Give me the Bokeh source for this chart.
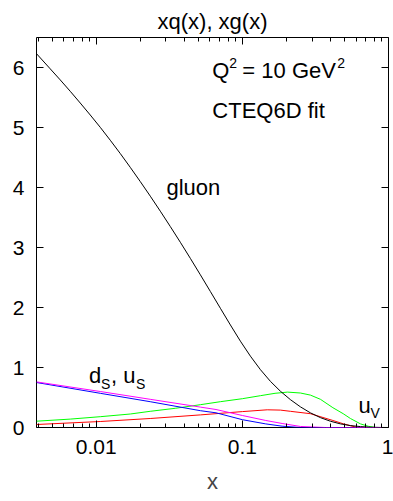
from bokeh.plotting import figure
from bokeh.models import (LogAxis, LinearAxis, FixedTicker, Label, Range1d,
                          CustomJSTickFormatter)
from bokeh.embed import file_html
from bokeh.resources import INLINE

FONT = "Liberation Sans"
FS = "21px"
TXT_FS = "22px"
SUB_FS = "14px"

# axis settings
x_start, x_end = 0.0039, 1.0
y_start, y_end = 0.0, 6.5
x_major = [0.01, 0.1, 1.0]
x_minor = [0.004, 0.005, 0.006, 0.007, 0.008, 0.009,
           0.02, 0.03, 0.04, 0.05, 0.06, 0.07, 0.08, 0.09,
           0.2, 0.3, 0.4, 0.5, 0.6, 0.7, 0.8, 0.9]
y_major = [0, 1, 2, 3, 4, 5, 6]

# parton distributions x*f(x, Q^2 = 10 GeV^2), CTEQ6D
gluon_x = [0.0039, 0.00484, 0.00567, 0.00664, 0.00777, 0.0091, 0.01065,
           0.01247, 0.0146, 0.01709, 0.02001, 0.02344, 0.02744, 0.03213,
           0.03762, 0.04405, 0.05158, 0.06039, 0.07071, 0.08279, 0.09693,
           0.1135, 0.1329, 0.1556, 0.1822, 0.2133, 0.2497, 0.2924, 0.3424,
           0.4009, 0.4694, 0.5496, 0.6435, 0.7535, 0.8823, 1.0]
gluon_y = [6.23, 5.978, 5.793, 5.603, 5.408, 5.208, 5.003,
           4.788, 4.566, 4.336, 4.099, 3.855, 3.605, 3.349,
           3.087, 2.819, 2.545, 2.267, 1.987, 1.709, 1.439,
           1.189, 0.964, 0.769, 0.604, 0.464, 0.344, 0.244, 0.164,
           0.104, 0.06, 0.032, 0.015, 0.005, 0.001, 0.0]

uv_x = [0.0039, 0.00664, 0.01065, 0.0171, 0.0234, 0.0347, 0.0516, 0.0707,
        0.1, 0.1328, 0.1673, 0.2035, 0.2496, 0.2922, 0.3421, 0.4164,
        0.4897, 0.549, 0.643, 0.7286, 0.815, 1.0]
uv_y = [0.105, 0.14, 0.18, 0.225, 0.27, 0.32, 0.38, 0.43,
        0.48, 0.53, 0.57, 0.59, 0.575, 0.54, 0.47, 0.33,
        0.23, 0.15, 0.06, 0.02, 0.0, 0.0]

dv_x = [0.0039, 0.01065, 0.0234, 0.0516, 0.1, 0.148, 0.182, 0.213,
        0.2922, 0.4164, 0.4897, 0.61, 1.0]
dv_y = [0.05, 0.1, 0.15, 0.21, 0.265, 0.295, 0.29, 0.27,
        0.23, 0.117, 0.062, 0.0, 0.0]

us_x = [0.0039, 0.01065, 0.0234, 0.0516, 0.066, 0.1, 0.1445, 0.187,
        0.2496, 0.37, 1.0]
us_y = [0.76, 0.60, 0.47, 0.34, 0.30, 0.20, 0.117, 0.067,
        0.017, 0.0, 0.0]

ds_x = [0.0039, 0.01065, 0.0234, 0.0516, 0.066, 0.1, 0.1445, 0.187,
        0.2496, 0.37, 1.0]
ds_y = [0.75, 0.57, 0.43, 0.28, 0.245, 0.13, 0.06, 0.022,
        0.0, 0.0, 0.0]

p = figure(x_axis_type="log",
           x_range=Range1d(x_start, x_end), y_range=Range1d(y_start, y_end),
           frame_width=352, frame_height=390,
           min_border_left=36, min_border_right=5,
           min_border_top=37, min_border_bottom=74,
           output_backend="svg", toolbar_location=None,
           title="xq(x), xg(x)")
p.background_fill_color = "white"
p.border_fill_color = "white"
p.outline_line_color = "black"
p.outline_line_width = 1
p.grid.visible = False

p.title.text_font = FONT
p.title.text_font_size = TXT_FS
p.title.text_font_style = "normal"
p.title.text_color = "black"
p.title.align = "center"
p.title.standoff = 4
p.title.vertical_align = "top"


def style_axis(ax, labels):
    ax.axis_line_color = None
    ax.major_tick_in = 7
    ax.major_tick_out = 0
    ax.minor_tick_in = 4
    ax.minor_tick_out = 0
    ax.major_tick_line_color = "black"
    ax.minor_tick_line_color = "black"
    if labels:
        ax.major_label_text_font = FONT
        ax.major_label_text_font_size = FS
        ax.major_label_text_color = "black"
        ax.major_label_standoff = 12
    else:
        ax.major_label_text_font_size = "1px"
        ax.major_label_text_color = None
        ax.major_label_standoff = 0


xt = FixedTicker(ticks=x_major, minor_ticks=x_minor)
yt = FixedTicker(ticks=y_major, minor_ticks=[])

p.xaxis.ticker = xt
p.yaxis.ticker = yt
p.xaxis.formatter = CustomJSTickFormatter(code="return String(tick);")
style_axis(p.xaxis[0], True)
style_axis(p.yaxis[0], True)
p.xaxis.axis_label = "x"
p.xaxis.axis_label_text_font = FONT
p.xaxis.axis_label_text_font_size = TXT_FS
p.xaxis.axis_label_text_font_style = "normal"
p.xaxis.axis_label_standoff = 12

top = LogAxis(ticker=xt)
style_axis(top, False)
p.add_layout(top, "above")
right = LinearAxis(ticker=yt)
style_axis(right, False)
p.add_layout(right, "right")

# curves
p.line(uv_x, uv_y, line_color="#00ff00", line_width=1)
p.line(dv_x, dv_y, line_color="#ff0000", line_width=1)
p.line(ds_x, ds_y, line_color="#0000ff", line_width=1)
p.line(us_x, us_y, line_color="#ff00ff", line_width=1)
p.line(gluon_x, gluon_y, line_color="black", line_width=1)

LIFT = 10  # px, raises the text labels onto their baselines


def label(x, y, text, size=TXT_FS, dx=0, dy=0):
    p.add_layout(Label(x=x, y=y, text=text, x_offset=dx, y_offset=dy + LIFT,
                       text_font=FONT, text_font_size=size,
                       text_color="black", text_baseline="alphabetic",
                       text_align="left"))


label(0.0302, 3.83, "gluon")
# Q^2 = 10 GeV^2 with raised exponents
label(0.0623, 5.78, "Q")
label(0.0623, 5.78, "2", SUB_FS, dx=17, dy=8)
label(0.0623, 5.78, "= 10 GeV", dx=30)
label(0.0623, 5.78, "2", SUB_FS, dx=125, dy=8)
label(0.0623, 5.12, "CTEQ6D fit")
# sea quarks label with subscripts
label(0.00891, 0.70, "d")
label(0.00891, 0.70, "S", SUB_FS, dx=12, dy=-8)
label(0.00891, 0.70, ", u", dx=22)
label(0.00891, 0.70, "S", SUB_FS, dx=47, dy=-8)
# valence u label
label(0.623, 0.2, "u")
label(0.623, 0.2, "V", SUB_FS, dx=12, dy=-7)

open("out.html", "w").write(file_html(p, INLINE))
